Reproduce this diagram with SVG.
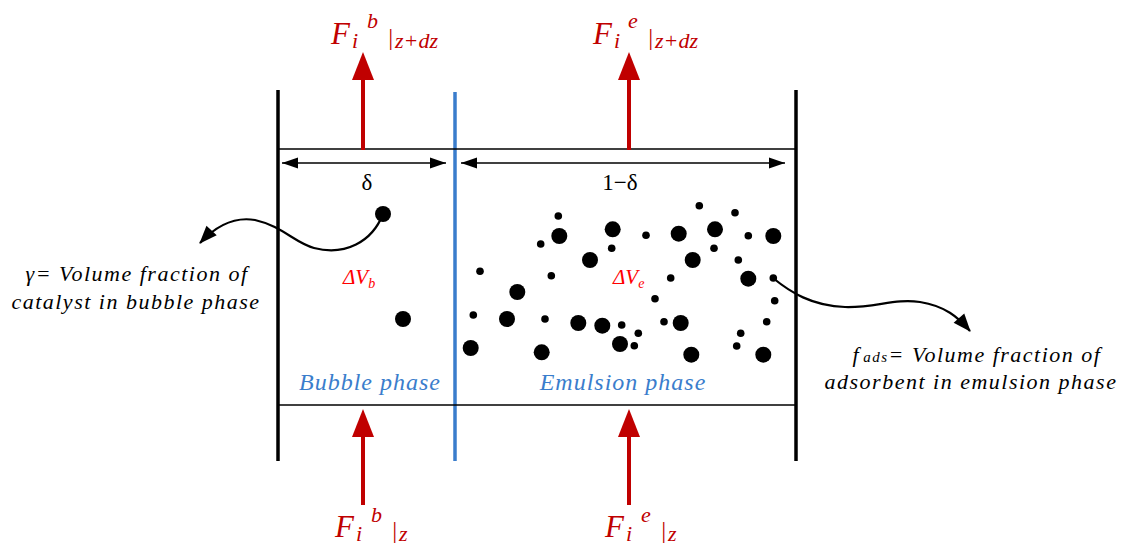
<svg xmlns="http://www.w3.org/2000/svg" width="1127" height="545" viewBox="0 0 1127 545">
<style>
.wall{stroke:#000;stroke-width:3.5;fill:none}
.hl{stroke:#000;stroke-width:1.5;fill:none}
.red{stroke:#c00000;stroke-width:4;fill:none}
.dim{stroke:#000;stroke-width:1.5;fill:none}
.curve{stroke:#000;stroke-width:2.2;fill:none}
.lbl{font-family:"Liberation Serif","Times New Roman","DejaVu Serif",serif;font-style:italic;fill:#c00000}
.note{font-family:"Liberation Serif","Times New Roman","DejaVu Serif",serif;font-style:italic;font-size:22px;letter-spacing:1.5px;fill:#000;text-anchor:middle}
.vol{font-family:"Liberation Serif","Times New Roman","DejaVu Serif",serif;font-style:italic;fill:#ff0000}
.phase{font-family:"Liberation Serif","Times New Roman","DejaVu Serif",serif;font-style:italic;font-size:24px;letter-spacing:1px;fill:#3a7dcc;text-anchor:middle}
.frac{font-family:"Liberation Serif","Times New Roman","DejaVu Serif",serif;font-size:23px;fill:#000;text-anchor:middle}
.dots circle{fill:#000}
</style>
<defs>
<marker id="redHead" markerUnits="userSpaceOnUse" markerWidth="30" markerHeight="24" refX="0" refY="11" orient="auto" overflow="visible">
<path d="M0,0 L28,11 L0,22 Z" fill="#c00000"/>
</marker>
<marker id="dimHead" markerUnits="userSpaceOnUse" markerWidth="18" markerHeight="12" refX="16" refY="5.5" orient="auto-start-reverse" overflow="visible">
<path d="M0,0 L16,5.5 L0,11 Z" fill="#000"/>
</marker>
<marker id="curveHead" markerUnits="userSpaceOnUse" markerWidth="20" markerHeight="16" refX="17" refY="7" orient="auto" overflow="visible">
<path d="M0,0 L18,7 L0,14 Z" fill="#000"/>
</marker>
</defs>
<rect width="1127" height="545" fill="#fff"/>

<g id="container">
<line class="wall" x1="278" y1="90" x2="278" y2="461"/>
<line class="wall" x1="796" y1="90" x2="796" y2="461"/>
<line x1="455" y1="92" x2="455" y2="461" stroke="#3a7dcc" stroke-width="3.5"/>
<line class="hl" x1="278" y1="149" x2="796" y2="149"/>
<line class="hl" x1="278" y1="405" x2="796" y2="405"/>
</g>

<g id="bubble-phase">
<text class="vol" x="343" y="284" font-size="21">ΔV<tspan font-size="14" dy="4">b</tspan></text>
<text class="phase" x="370" y="390">Bubble phase</text>
<g class="dots">
<circle cx="383" cy="214" r="8"/>
<circle cx="403" cy="319" r="8"/>
</g>
</g>

<g id="emulsion-phase">
<text class="vol" x="613" y="284" font-size="21">ΔV<tspan font-size="14" dy="4">e</tspan></text>
<text class="phase" x="623" y="390">Emulsion phase</text>
<g class="dots">
<circle cx="558.3" cy="216" r="3.8"/>
<circle cx="699.3" cy="205.7" r="3.8"/>
<circle cx="735" cy="212.7" r="3.8"/>
<circle cx="612.7" cy="229.3" r="8"/>
<circle cx="559.3" cy="236" r="8"/>
<circle cx="540.7" cy="244" r="3.8"/>
<circle cx="646" cy="235.3" r="3.8"/>
<circle cx="678.7" cy="233.7" r="8"/>
<circle cx="715" cy="229.3" r="8"/>
<circle cx="748.3" cy="235.7" r="3.8"/>
<circle cx="773.3" cy="236" r="8"/>
<circle cx="611.7" cy="248.3" r="3.8"/>
<circle cx="714" cy="248.3" r="3.8"/>
<circle cx="590" cy="260" r="8"/>
<circle cx="692.7" cy="260" r="8"/>
<circle cx="738.3" cy="260" r="3.8"/>
<circle cx="480" cy="271.3" r="3.8"/>
<circle cx="551.3" cy="275.7" r="3.8"/>
<circle cx="670.7" cy="278" r="3.8"/>
<circle cx="748.3" cy="278.7" r="8"/>
<circle cx="773.3" cy="278" r="3.8"/>
<circle cx="517.3" cy="292" r="8"/>
<circle cx="655" cy="298.7" r="3.8"/>
<circle cx="774.7" cy="300.7" r="3.8"/>
<circle cx="473.3" cy="315" r="3.8"/>
<circle cx="507" cy="319" r="8"/>
<circle cx="545" cy="319" r="3.8"/>
<circle cx="578.3" cy="323" r="8"/>
<circle cx="602.3" cy="325.7" r="8"/>
<circle cx="621.7" cy="325" r="3.8"/>
<circle cx="664" cy="321.7" r="3.8"/>
<circle cx="680.7" cy="323" r="8"/>
<circle cx="766.7" cy="321.7" r="3.8"/>
<circle cx="638.3" cy="333.3" r="3.8"/>
<circle cx="740.7" cy="333.3" r="3.8"/>
<circle cx="470.7" cy="348" r="8"/>
<circle cx="541.7" cy="352.3" r="8"/>
<circle cx="620" cy="344" r="8"/>
<circle cx="634.3" cy="345.7" r="3.8"/>
<circle cx="736.7" cy="346" r="3.8"/>
<circle cx="691.3" cy="354.7" r="8"/>
<circle cx="763.3" cy="354.7" r="8"/>
</g>
</g>

<g id="width-bubble">
<line class="dim" x1="282" y1="163" x2="446" y2="163" marker-start="url(#dimHead)" marker-end="url(#dimHead)"/>
<text class="frac" x="367" y="190">δ</text>
</g>
<g id="width-emulsion">
<line class="dim" x1="461" y1="163" x2="785" y2="163" marker-start="url(#dimHead)" marker-end="url(#dimHead)"/>
<text class="frac" x="620" y="190">1−δ</text>
</g>

<g id="flux-bubble-out">
<text class="lbl"><tspan x="331" y="44" font-size="31">F</tspan><tspan x="352" y="48" font-size="22">i</tspan><tspan x="367" y="28" font-size="22">b</tspan><tspan x="387" y="45" font-size="24">|</tspan><tspan x="395" y="48" font-size="22">z+dz</tspan></text>
</g>
<g id="flux-emulsion-out">
<text class="lbl"><tspan x="593" y="44" font-size="31">F</tspan><tspan x="614" y="48" font-size="22">i</tspan><tspan x="628" y="28" font-size="22">e</tspan><tspan x="647" y="45" font-size="24">|</tspan><tspan x="655" y="48" font-size="22">z+dz</tspan></text>
</g>
<g id="flux-bubble-in">
<text class="lbl"><tspan x="335" y="537" font-size="31">F</tspan><tspan x="356" y="541" font-size="22">i</tspan><tspan x="371" y="522" font-size="22">b</tspan><tspan x="391" y="538" font-size="24">|</tspan><tspan x="399" y="541" font-size="22">z</tspan></text>
</g>
<g id="flux-emulsion-in">
<text class="lbl"><tspan x="605" y="537" font-size="31">F</tspan><tspan x="626" y="541" font-size="22">i</tspan><tspan x="641" y="522" font-size="22">e</tspan><tspan x="660" y="538" font-size="24">|</tspan><tspan x="668" y="541" font-size="22">z</tspan></text>
</g>

<g id="note-gamma">
<text class="note" x="137" y="281">γ= Volume fraction of</text>
<text class="note" x="136" y="309">catalyst in bubble phase</text>
</g>
<g id="note-fads">
<text class="note" x="977" y="362"><tspan>f</tspan><tspan font-size="15" dx="3">ads</tspan><tspan>= Volume fraction of</tspan></text>
<text class="note" x="971" y="389">adsorbent in emulsion phase</text>
</g>

<g id="connectors">
<line class="red" x1="363" y1="150" x2="363" y2="80" marker-end="url(#redHead)"/>
<line class="red" x1="629" y1="150" x2="629" y2="80" marker-end="url(#redHead)"/>
<line class="red" x1="363" y1="505" x2="363" y2="437" marker-end="url(#redHead)"/>
<line class="red" x1="629" y1="505" x2="629" y2="437" marker-end="url(#redHead)"/>
<path class="curve" d="M383,214 C372,242 345,256 314,248 C295,243 282,226 255,220 C232,216 214,228 200,243" marker-end="url(#curveHead)"/>
<path class="curve" d="M773,278 C790,292 812,306 845,307 C875,308 895,298 920,302 C945,306 958,317 970,331" marker-end="url(#curveHead)"/>
</g>
</svg>
